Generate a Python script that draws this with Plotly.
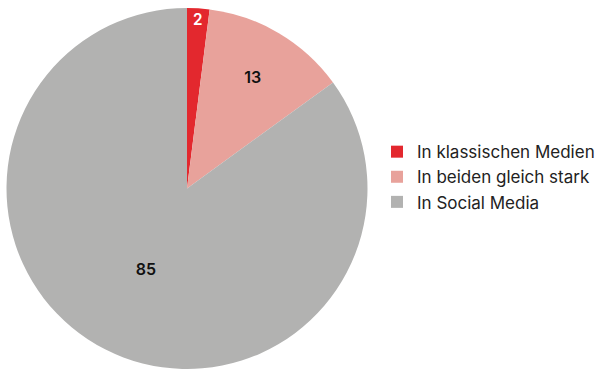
import plotly.graph_objects as go

labels = ["In klassischen Medien", "In beiden gleich stark", "In Social Media"]
values = [2, 13, 85]
colors = ["#e3282e", "#e8a29b", "#b2b2b1"]
text_colors = ["#ffffff", "#111111", "#111111"]

W, H = 598, 369

fig = go.Figure(go.Pie(
    labels=labels,
    values=values,
    marker=dict(colors=colors, line=dict(width=0)),
    sort=False,
    direction="clockwise",
    rotation=0,
    texttemplate="%{value}",
    textposition="inside",
    insidetextorientation="horizontal",
    insidetextfont=dict(color=text_colors, size=16, family="Inter", weight=600),
    hoverinfo="label+value",
    domain=dict(x=[6.5 / W, 367.5 / W], y=[0, 361 / H]),
))

fig.update_layout(
    width=W, height=H,
    margin=dict(l=0, r=0, t=0, b=0, autoexpand=False),
    paper_bgcolor="white",
    plot_bgcolor="white",
    font=dict(family="Inter", color="#222222"),
    legend=dict(
        x=377 / W, y=0.52, xanchor="left", yanchor="middle",
        font=dict(size=17, color="#222222", family="Inter"),
        tracegroupgap=0,
        itemsizing="constant",
    ),
)

fig.write_html("out.html")
